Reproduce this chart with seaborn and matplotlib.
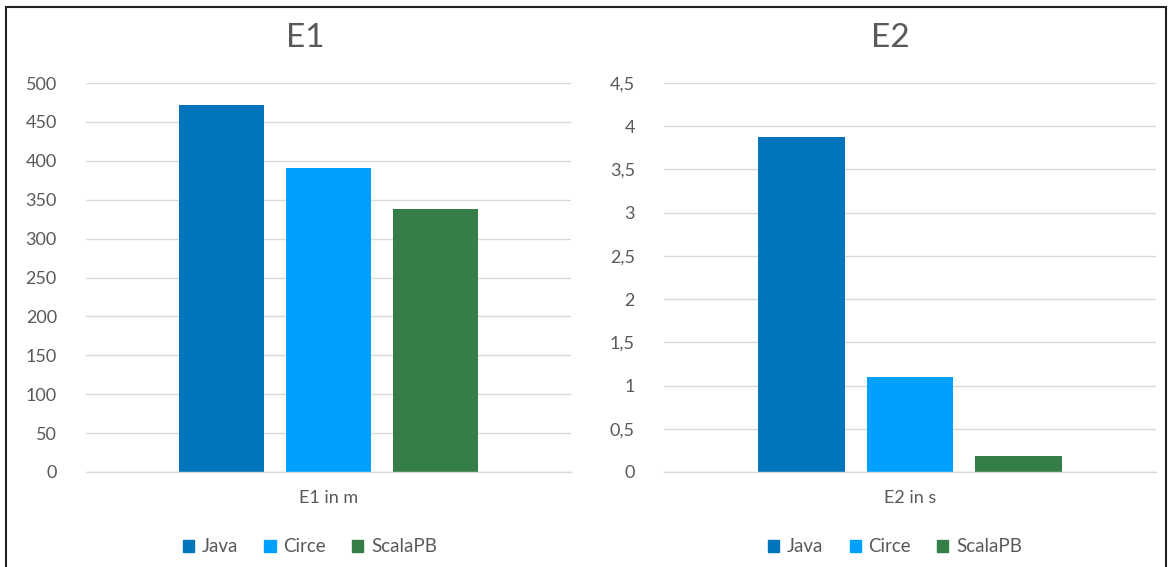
import matplotlib
matplotlib.use("Agg")
import matplotlib.pyplot as plt
import seaborn as sns
import pandas as pd
from matplotlib.patches import Rectangle

series = ["Java", "Circe", "ScalaPB"]
e1_values = [472, 391, 338]
e2_values = [3.87, 1.10, 0.185]
e1_label = "E1 in m"
e2_label = "E2 in s"
e1_ticks = [0, 50, 100, 150, 200, 250, 300, 350, 400, 450, 500]
e1_ticklabels = ["0", "50", "100", "150", "200", "250", "300", "350", "400", "450", "500"]
e2_ticks = [0, 0.5, 1, 1.5, 2, 2.5, 3, 3.5, 4, 4.5]
e2_ticklabels = ["0", "0,5", "1", "1,5", "2", "2,5", "3", "3,5", "4", "4,5"]
titles = ["E1", "E2"]
colors = ["#0175BB", "#00A0FF", "#357E47"]

sns.set_theme(style="white")
plt.rcParams['font.family'] = ['Lato', 'DejaVu Sans']
TXT = "#595959"
GRID = "#D9D9D9"

W, H = 1169, 567
fig = plt.figure(figsize=(W / 100, H / 100), dpi=100)

def box(x0, x1, y0, y1):
    return [x0 / W, 1 - y1 / H, (x1 - x0) / W, (y1 - y0) / H]

ax1 = fig.add_axes(box(86, 571, 83, 472))
ax2 = fig.add_axes(box(664, 1156, 83, 472))

configs = [
    (ax1, e1_values, e1_label, e1_ticks, e1_ticklabels, 500, titles[0], 305, 310),
    (ax2, e2_values, e2_label, e2_ticks, e2_ticklabels, 4.5, titles[1], 890, 895),
]

for ax, vals, xlab, ticks, tlabels, ymax, title, tx, lx in configs:
    df = pd.DataFrame({"cat": [xlab] * len(series), "series": series, "value": vals})
    sns.barplot(data=df, x="cat", y="value", hue="series", palette=colors,
                width=0.66, gap=0.2, ax=ax, legend=False, saturation=1,
                edgecolor="none")
    ax.set_xlim(-0.5, 0.5)
    ax.set_ylim(0, ymax)
    ax.set_yticks(ticks)
    ax.set_yticklabels(tlabels)
    ax.yaxis.grid(True, color=GRID, lw=1)
    ax.set_axisbelow(True)
    for s in ["top", "right", "left"]:
        ax.spines[s].set_visible(False)
    ax.spines["bottom"].set_color(GRID)
    ax.spines["bottom"].set_linewidth(1)
    ax.tick_params(axis="y", length=0, pad=21, labelsize=13, labelcolor=TXT)
    ax.tick_params(axis="x", length=0, pad=13, labelsize=13, labelcolor=TXT)
    ax.set_xlabel("")
    ax.set_ylabel("")
    fig.text(tx / W, 1 - 38 / H, title, ha="center", va="center", fontsize=24, color=TXT)
    handles = [Rectangle((0, 0), 1, 1, color=c) for c in colors]
    fig.legend(handles, series, loc="center", bbox_to_anchor=(lx / W, 1 - 547 / H),
               ncol=3, frameon=False, fontsize=13.5, labelcolor=TXT,
               handlelength=0.6, handleheight=0.6, handletextpad=0.4, columnspacing=1.4)

fig.patches.append(Rectangle((6 / W, -0.01), 1160 / W, 1 - 7 / H + 0.01,
                             transform=fig.transFigure, fill=False,
                             edgecolor="#222222", lw=1.5))

fig.savefig("out.png", dpi=100)
